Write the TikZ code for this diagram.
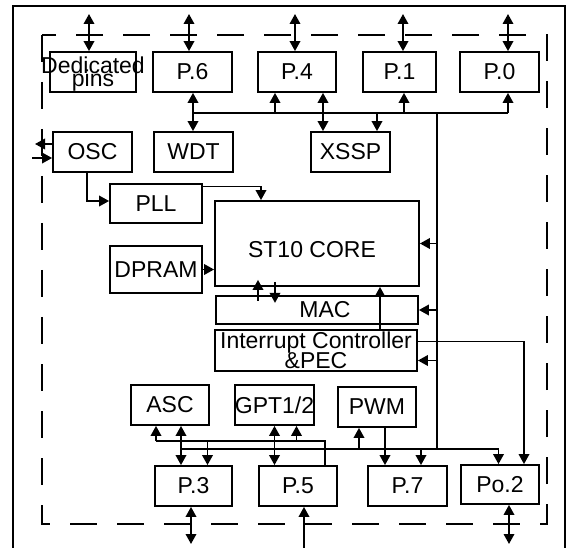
\documentclass[tikz,border=0pt]{standalone}
\usepackage{fontspec}
\setmainfont{Liberation Sans}
\usetikzlibrary{arrows.meta}

\begin{document}
\begin{tikzpicture}[x=1pt,y=-1pt,
      blk/.style={draw,line width=1.8pt,inner sep=0pt,minimum width=79pt,minimum height=40pt,
                  font=\fontsize{23}{27.5}\selectfont},
      txt/.style={inner sep=0pt,align=center,font=\fontsize{23}{27.5}\selectfont},
      wire/.style={line width=1.8pt},
      arr/.style={wire,-{Triangle[length=10pt,width=10.5pt]}},
      dbl/.style={wire,{Triangle[length=10pt,width=10.5pt]}-{Triangle[length=10pt,width=10.5pt]}},
      dashbox/.style={line width=1.8pt,dash pattern=on 27pt off 20pt}]
   \useasboundingbox (0,0) rectangle (568,548);

   % frames
   \draw[wire] (13,548) -- (13,6) -- (565,6) -- (565,548);
   \draw[dashbox] (42,35) rectangle (547,524);

   % ports at the top
   \node[blk,minimum width=86pt] (ded) at (93,72) {};
   \node[txt] (dedtxt) at ([yshift=-2pt]ded.center) {Dedicated\\[-14.5pt]pins};
   \node[blk] (p6) at (192.5,72) {P.6};
   \node[blk,minimum width=78pt] (p4) at (297,72) {P.4};
   \node[blk,minimum width=73pt] (p1) at (399.5,72) {P.1};
   \node[blk] (p0) at (499.5,72) {P.0};

   % peripherals
   \node[blk] (osc) at (92.5,152) {OSC};
   \node[blk] (wdt) at (193.5,152) {WDT};
   \node[blk] (xssp) at (350.5,152) {XSSP};
   \node[blk,minimum width=92pt,minimum height=39pt] (pll) at (156,203.5) {PLL};
   \node[blk,minimum width=92pt,minimum height=47pt] (dpram) at (156,269.5) {DPRAM};
   \node[blk,minimum width=204pt,minimum height=85pt,text height=28pt] (core) at (317,243.5) {ST10 CORE\hspace*{10pt}};
   \node[blk,minimum width=202pt,minimum height=28pt] (mac) at (317,310) {\hspace*{16pt}MAC};
   \node[blk,minimum width=202pt,minimum height=41pt,align=center] (intc) at (316,350.5)
        {Interrupt Controller\\[-7.5pt]\&PEC};
   \node[blk,minimum width=78pt] (asc) at (170,405) {ASC};
   \node[blk,minimum width=77pt] (gpt) at (274.5,405) {GPT1/2};
   \node[blk,minimum width=78pt] (pwm) at (377,407) {PWM};

   % ports at the bottom
   \node[blk,minimum width=77pt] (p3) at (193.5,486) {P.3};
   \node[blk,minimum width=78pt] (p5) at (298,486) {P.5};
   \node[blk] (p7) at (407.5,486) {P.7};
   \node[blk,minimum width=78pt,minimum height=39pt] (po2) at (500,484.5) {Po.2};

   % pins
   \coordinate (dedpin) at (89,14);
   \coordinate (p6pin) at (189,14);
   \coordinate (p4pin) at (295,14);
   \coordinate (p1pin) at (403,14);
   \coordinate (p0pin) at (508,14);
   \coordinate (p3pin) at (191,544);
   \coordinate (p5pin) at (304,548);
   \coordinate (po2pin) at (509,544);
   \coordinate (clkout) at (35,144);
   \coordinate (clkin) at (32,158);

   % buses
   \coordinate (tbl) at (193,113);
   \coordinate (tbr) at (508,113);
   \coordinate (trk) at (437,113);
   \coordinate (bl1) at (156,441);
   \coordinate (bl2) at (181,449);

   \draw[dbl] (dedpin) -- (dedpin |- ded.north);
   \draw[dbl] (p6pin) -- (p6pin |- p6.north);
   \draw[dbl] (p4pin) -- (p4pin |- p4.north);
   \draw[dbl] (p1pin) -- (p1pin |- p1.north);
   \draw[dbl] (p0pin) -- (p0pin |- p0.north);

   \draw[wire] (tbl) -- (tbr);
   \draw[dbl] (p6.south -| tbl) -- (tbl |- wdt.north);
   \draw[arr] ([xshift=-22pt]p4.south |- tbl) -- ([xshift=-22pt]p4.south);
   \draw[dbl] ([xshift=26pt]p4.south) -- ([xshift=26pt]p4.south |- xssp.north);
   \draw[arr] ([xshift=26.5pt]xssp.north |- tbl) -- ([xshift=26.5pt]xssp.north);
   \draw[arr] ([xshift=4.5pt]p1.south |- tbl) -- ([xshift=4.5pt]p1.south);
   \draw[arr] (tbr) -- (tbr |- p0.south);
   \draw[wire] (trk) -- (trk |- bl2);

   \draw[arr] (osc.west |- clkout) -- (clkout);
   \draw[arr] (clkin) -- (clkin -| osc.west);
   \draw[arr] ([xshift=-5.5pt]osc.south) |- ([yshift=2.5pt]pll.west);
   \draw[arr] ([yshift=17pt]pll.east) -| ([xshift=-56pt]core.north);
   \draw[arr] (dpram.east) -- (dpram.east -| core.west);

   \draw[arr] (core.east -| trk) -- (core.east);
   \draw[arr] (mac.east -| trk) -- (mac.east);
   \draw[arr] ([yshift=-10pt]intc.east -| trk) -- ([yshift=-10pt]intc.east);
   \draw[arr] ([xshift=-59pt,yshift=-14pt]core.south) -- ([xshift=-59pt,yshift=7pt]core.south);
   \draw[arr] ([xshift=-42pt,yshift=5pt]core.south) -- ([xshift=-42pt,yshift=-16pt]core.south);
   \draw[arr] ([xshift=64pt]intc.north) -- ([xshift=64pt]intc.north |- core.south);
   \draw[arr] ([yshift=9pt]intc.east) -| ([xshift=24pt]po2.north);

   \draw[wire] (bl1) -| ([xshift=27pt]p5.north);
   \draw[arr] (bl2) -| ([xshift=-1.5pt]po2.north);
   \draw[arr] (bl1) -- (bl1 |- asc.south);
   \draw[dbl] ([xshift=11pt]asc.south) -- ([xshift=11pt]asc.south |- p3.north);
   \draw[arr] ([xshift=14pt]p3.north |- bl1) -- ([xshift=14pt]p3.north);
   \draw[dbl] (gpt.south) -- (gpt.south |- p5.north);
   \draw[arr] ([xshift=22pt]gpt.south |- bl1) -- ([xshift=22pt]gpt.south);
   \draw[arr] ([xshift=-18pt]pwm.south |- bl2) -- ([xshift=-18pt]pwm.south);
   \draw[arr] ([xshift=8pt]pwm.south) -- ([xshift=8pt]pwm.south |- p7.north);
   \draw[arr] ([xshift=13.5pt]p7.north |- bl2) -- ([xshift=13.5pt]p7.north);

   \draw[dbl] (p3.south -| p3pin) -- (p3pin);
   \draw[arr] (p5pin) -- (p5pin |- p5.south);
   \draw[dbl] (po2.south -| po2pin) -- (po2pin);
\end{tikzpicture}
\end{document}
